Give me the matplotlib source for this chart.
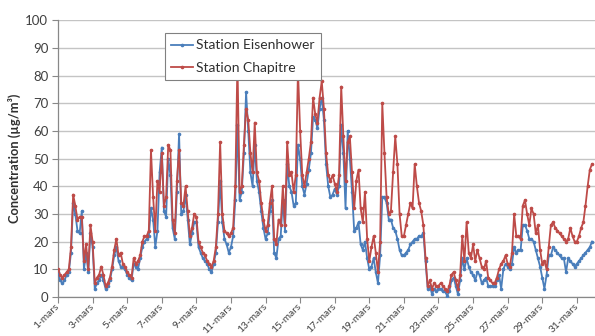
import numpy as np
import matplotlib
matplotlib.use("Agg")
import matplotlib.pyplot as plt

plt.rcParams['font.family'] = ['Lato', 'DejaVu Sans']

# 3-hourly concentrations (µg/m³), March, 8 readings per day
chapitre = [
    10, 8, 7, 8, 9, 10, 18, 37,
    33, 28, 29, 29, 13, 19, 10, 26,
    20, 5, 7, 8, 11, 8, 4, 5,
    7, 11, 17, 21, 15, 16, 12, 11,
    9, 8, 7, 14, 12, 13, 15, 20,
    22, 22, 24, 53, 36, 24, 42, 38,
    52, 33, 36, 55, 53, 28, 23, 42,
    53, 34, 33, 40, 31, 22, 25, 30,
    29, 20, 18, 16, 15, 13, 12, 11,
    13, 18, 30, 56, 30, 24, 23, 22,
    23, 25, 40, 85, 38, 40, 55, 68,
    64, 52, 45, 63, 45, 42, 34, 28,
    24, 26, 34, 40, 21, 19, 28, 26,
    40, 26, 56, 44, 45, 38, 44, 82,
    60, 44, 40, 45, 50, 56, 72, 66,
    63, 72, 78, 68, 52, 44, 42, 44,
    41, 38, 44, 76, 58, 42, 56, 58,
    45, 32, 42, 46, 32, 27, 38, 21,
    13, 18, 22, 16, 9, 20, 70, 52,
    36, 30, 31, 45, 58, 48, 30, 22,
    22, 26, 30, 34, 32, 48, 40, 34,
    31, 26, 14, 4, 6, 3, 5, 4,
    4, 5, 4, 3, 2, 4, 8, 9,
    6, 3, 8, 22, 13, 27, 16, 14,
    19, 13, 17, 14, 11, 10, 13, 7,
    6, 5, 5, 7, 10, 12, 13, 15,
    12, 11, 16, 30, 22, 22, 21, 33,
    35, 30, 26, 32, 30, 23, 26, 17,
    12, 13, 10, 18, 26, 27, 25, 24,
    23, 22, 21, 20, 21, 25, 22, 20,
    20, 22, 25, 27, 33, 40, 46, 48,
]

eisenhower = [
    9, 6, 5, 6, 8, 9, 16, 34,
    30, 24, 23, 31, 10, 16, 9, 23,
    18, 3, 5, 6, 8, 6, 3, 4,
    6, 10, 15, 18, 13, 11, 11, 10,
    8, 7, 6, 12, 11, 10, 14, 18,
    20, 21, 22, 32, 28, 18, 24, 45,
    54, 31, 29, 50, 44, 25, 21, 38,
    59, 30, 31, 37, 28, 19, 23, 27,
    27, 18, 16, 14, 13, 12, 10, 9,
    12, 16, 27, 42, 27, 21, 19, 16,
    18, 22, 35, 62, 35, 38, 52, 74,
    60, 45, 40, 55, 42, 38, 31, 25,
    21, 23, 31, 35, 16, 14, 21, 22,
    35, 24, 48, 40, 38, 33, 34, 55,
    50, 40, 37, 41, 46, 52, 65, 64,
    61, 68, 72, 64, 48, 40, 36, 37,
    39, 37, 40, 62, 52, 32, 60, 50,
    38, 24, 25, 27, 19, 17, 20, 14,
    10, 11, 14, 9, 5, 15, 36, 36,
    34, 28, 28, 25, 24, 21, 17, 15,
    15, 16, 17, 19, 20, 21, 21, 22,
    22, 23, 13, 3, 4, 1, 3, 2,
    3, 3, 2, 2, 0.5, 2, 6, 7,
    4, 1, 6, 14, 10, 14, 11, 9,
    8, 6, 9, 8, 5, 6, 7, 4,
    4, 4, 4, 6, 8, 3, 10, 12,
    11, 10, 12, 18, 16, 17, 17, 26,
    26, 24, 21, 21, 20, 17, 14, 11,
    7, 3, 8, 15, 15, 18, 17, 16,
    15, 14, 14, 9, 14, 13, 12, 11,
    12, 13, 14, 15, 16, 17, 18, 20,
]

readings_per_day = 8
tick_days = list(range(1, 32, 2))
tick_labels = [f"{d}-mars" for d in tick_days]

# time in days since start of month (1.0 = 1 March 00:00)
t = 1 + np.arange(len(chapitre)) / readings_per_day

fig = plt.figure(figsize=(5.95, 3.36), dpi=100)
ax = fig.add_axes([0.0975, 0.116, 0.9025, 0.824])

blue = '#4a7ebb'
red = '#be4b48'
ax.plot(t, eisenhower, color=blue, lw=1.3, marker='o', ms=1.6,
        mec=blue, mfc=blue, label='Station Eisenhower', zorder=3)
ax.plot(t, chapitre, color=red, lw=1.3, marker='o', ms=1.6,
        mec=red, mfc=red, label='Station Chapitre', zorder=4)

ax.set_xlim(1, 32.05)
ax.set_ylim(0, 100)
ax.set_yticks(np.arange(0, 101, 10))
ax.set_xticks(tick_days)
ax.set_xticklabels(tick_labels, rotation=45, ha='right', va='center',
                   rotation_mode='anchor', fontsize=7.3, color='#404040')
ax.tick_params(axis='x', length=4, width=0.8, color='#888888', pad=2)
ax.tick_params(axis='y', length=4, width=0.8, color='#888888',
               labelsize=9.5, labelcolor='#404040', pad=3)

ax.grid(axis='y', color='#c4c4c4', lw=1.0)
ax.set_axisbelow(True)
for side in ('top', 'right'):
    ax.spines[side].set_visible(False)
for side in ('left', 'bottom'):
    ax.spines[side].set_color('#888888')
    ax.spines[side].set_linewidth(0.9)

ax.set_ylabel('Concentration (µg/m³)', fontsize=9.3, fontweight='bold',
              color='#303030', labelpad=3)

leg = ax.legend(loc='upper left', bbox_to_anchor=(0.199, 0.953),
                borderaxespad=0, fontsize=10, frameon=True, fancybox=False,
                framealpha=1.0, facecolor='white',
                edgecolor='#808080', handlelength=1.6, handletextpad=0.2,
                labelspacing=0.75, borderpad=0.45, markerscale=1.0)
leg.get_frame().set_linewidth(0.8)
leg.set_zorder(10)
for txt in leg.get_texts():
    txt.set_color('#303030')

fig.savefig('out.png', dpi=100, facecolor='white')
